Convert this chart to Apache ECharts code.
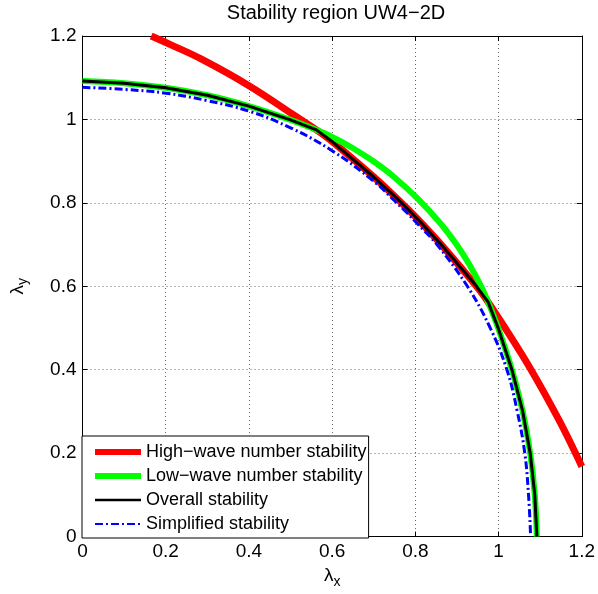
<!DOCTYPE html>
<html>
<head>
<meta charset="utf-8">
<script src="https://cdn.jsdelivr.net/npm/echarts@6/dist/echarts.min.js"></script>
<style>
  html, body { margin: 0; padding: 0; background: #fff; }
  #main { width: 598px; height: 594px; }
</style>
</head>
<body>
<div id="main"></div>
<script>
// values
let highX = [0.165, 0.21, 0.285, 0.4, 0.505, 0.562, 0.6, 0.7, 0.75, 0.7835, 0.816, 0.862, 0.947, 0.975, 1.0125, 1.078, 1.145, 1.18, 1.2];
let highY = [1.2, 1.18, 1.145, 1.081, 1.0125, 0.975, 0.947, 0.862, 0.816, 0.7835, 0.75, 0.7, 0.6, 0.562, 0.505, 0.4, 0.28, 0.21, 0.168];

let lowX = [0, 0.1, 0.2, 0.3, 0.4, 0.5, 0.562, 0.6, 0.65, 0.7, 0.75, 0.808, 0.861, 0.899, 0.931, 0.958, 0.975, 0.999, 1.032, 1.058, 1.076, 1.087, 1.092];
let lowY = [1.092, 1.087, 1.076, 1.058, 1.032, 0.999, 0.975, 0.958, 0.931, 0.899, 0.861, 0.808, 0.75, 0.7, 0.65, 0.6, 0.562, 0.5, 0.4, 0.3, 0.2, 0.1, 0];

let overallX = [0, 0.1, 0.2, 0.3, 0.4, 0.5, 0.562, 0.6, 0.7, 0.75, 0.7835, 0.816, 0.862, 0.947, 0.975, 0.999, 1.032, 1.058, 1.076, 1.087, 1.092];
let overallY = [1.092, 1.087, 1.076, 1.058, 1.032, 0.999, 0.975, 0.947, 0.862, 0.816, 0.7835, 0.75, 0.7, 0.6, 0.562, 0.5, 0.4, 0.3, 0.2, 0.1, 0];

let simpX = [0, 0.1, 0.2, 0.3, 0.4, 0.5, 0.6, 0.7, 0.75, 0.778, 0.805, 0.852, 0.925, 0.98, 1.02, 1.045, 1.063, 1.072, 1.077];
let simpY = [1.077, 1.072, 1.063, 1.045, 1.02, 0.98, 0.925, 0.852, 0.805, 0.778, 0.75, 0.7, 0.6, 0.5, 0.4, 0.3, 0.2, 0.1, 0];

let names = ['High\u2212wave number stability', 'Low\u2212wave number stability', 'Overall stability', 'Simplified stability'];

function zip(xs, ys) {
  return xs.map(function (x, i) { return [x, ys[i]]; });
}

let font = 'Liberation Sans, Arial, Helvetica, sans-serif';
let chart = echarts.init(document.getElementById('main'), null, { renderer: 'canvas' });

function axisBase(pos, showLabels) {
  return {
    type: 'value',
    position: pos,
    min: 0,
    max: 1.2,
    interval: 0.2,
    axisLine: { show: true, onZero: false, lineStyle: { color: '#000', width: 1 } },
    axisTick: { show: true, inside: true, length: 5, lineStyle: { color: '#000' } },
    axisLabel: {
      show: showLabels,
      color: '#000',
      fontFamily: font,
      fontSize: 19,
      margin: 6,
      formatter: function (v) { return String(+v.toFixed(1)); }
    },
    splitLine: { show: false }
  };
}

let gridLine = { show: true, lineStyle: { color: '#666', type: [1, 3], width: 1 } };

let xMain = axisBase('bottom', true);
xMain.splitLine = gridLine;
xMain.name = '{a|\u03bb}{b|x}';
xMain.nameLocation = 'middle';
xMain.nameGap = 25;
xMain.nameTextStyle = {
  rich: {
    a: { fontFamily: font, fontSize: 19, color: '#000' },
    b: { fontFamily: font, fontSize: 14, color: '#000', padding: [12, 0, 0, 0] }
  }
};

let yMain = axisBase('left', true);
yMain.splitLine = gridLine;
yMain.name = '{a|\u03bb}{b|y}';
yMain.nameLocation = 'middle';
yMain.nameGap = 52;
yMain.nameRotate = 90;
yMain.nameTextStyle = {
  rich: {
    a: { fontFamily: font, fontSize: 19, color: '#000' },
    b: { fontFamily: font, fontSize: 14, color: '#000', padding: [12, 0, 0, 0] }
  }
};

let noMarker = { color: 'rgba(0,0,0,0)', borderWidth: 0, opacity: 0 };

chart.setOption({
  backgroundColor: '#fff',
  animation: false,
  title: {
    text: 'Stability region UW4\u22122D',
    left: 331,
    textAlign: 'center',
    top: -2,
    textStyle: { fontFamily: font, fontSize: 20, fontWeight: 'normal', color: '#000' }
  },
  grid: { left: 76, right: 13, top: 36, bottom: 49 },
  xAxis: [xMain, axisBase('top', false)],
  yAxis: [yMain, axisBase('right', false)],
  legend: {
    orient: 'vertical',
    left: 82,
    top: 436,
    padding: [6, 2, 4, 10],
    itemGap: 4,
    itemWidth: 46,
    itemHeight: 20,
    backgroundColor: '#fff',
    borderColor: '#000',
    borderWidth: 1,
    textStyle: { fontFamily: font, fontSize: 18, color: '#000', lineHeight: 20 },
    data: [
      { name: names[0], itemStyle: noMarker, lineStyle: { color: '#ff0000', width: 6 } },
      { name: names[1], itemStyle: noMarker, lineStyle: { color: '#00ff00', width: 6 } },
      { name: names[2], itemStyle: noMarker, lineStyle: { color: '#000000', width: 2.5 } },
      { name: names[3], itemStyle: noMarker, lineStyle: { color: '#0000ff', width: 2, type: [8, 3, 2, 3] } }
    ]
  },
  series: [
    {
      name: names[0], type: 'line', data: zip(highX, highY), symbol: 'none', smooth: 0.4,
      lineStyle: { color: '#ff0000', width: 7 }, itemStyle: { color: '#ff0000' }
    },
    {
      name: names[1], type: 'line', data: zip(lowX, lowY), symbol: 'none', smooth: 0.4,
      lineStyle: { color: '#00ff00', width: 6 }, itemStyle: { color: '#00ff00' }
    },
    {
      name: names[2], type: 'line', data: zip(overallX, overallY), symbol: 'none', smooth: false,
      lineStyle: { color: '#000000', width: 3 }, itemStyle: { color: '#000000' }
    },
    {
      name: names[3], type: 'line', data: zip(simpX, simpY), symbol: 'none', smooth: 0.4,
      lineStyle: { color: '#0000ff', width: 3, type: [8, 3, 2, 3], cap: 'butt' }, itemStyle: { color: '#0000ff' }
    }
  ]
});
</script>
</body>
</html>
